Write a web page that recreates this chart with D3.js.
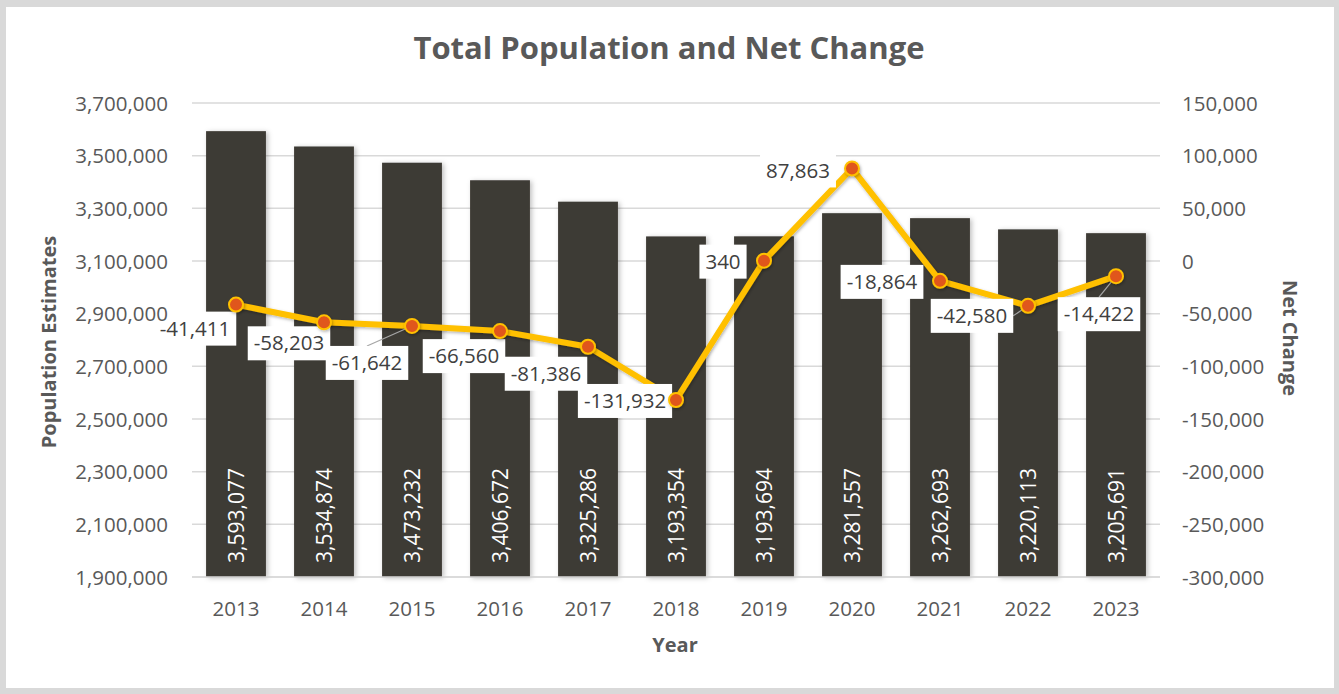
<!DOCTYPE html>
<html>
<head>
<meta charset="utf-8">
<script src="https://cdn.jsdelivr.net/npm/d3@7"></script>
<style>
  html, body { margin: 0; padding: 0; background: #d9d9d9; }
  svg { display: block; }
  text { font-family: "Open Sans", sans-serif; }
</style>
</head>
<body>
<svg id="chart" width="1339" height="694"></svg>
<script>
// Data
const years = ["2013", "2014", "2015", "2016", "2017", "2018", "2019", "2020", "2021", "2022", "2023"];
const population = [3593077, 3534874, 3473232, 3406672, 3325286, 3193354, 3193694, 3281557, 3262693, 3220113, 3205691];
const netChange = [-41411, -58203, -61642, -66560, -81386, -131932, 340, 87863, -18864, -42580, -14422];
const popTicks = [1900000, 2100000, 2300000, 2500000, 2700000, 2900000, 3100000, 3300000, 3500000, 3700000];
const changeTicks = [-300000, -250000, -200000, -150000, -100000, -50000, 0, 50000, 100000, 150000];

// Net-change label placement (text centre relative to its marker) and leader-line flags
const labelOffsets = [[-41, 24], [-35, 21], [-45, 37], [-36, 25], [-42, 27], [-51, 1], [-41, 1], [-54, 2], [-58, 1], [-56, 10], [-17, 38]];
const leaderLines = [false, false, true, false, false, false, false, false, false, true, true];

const W = 1339, H = 694;
const margin = { left: 192, right: 179, top: 103, bottom: 117 };
const svg = d3.select("#chart");

// frame
svg.append("rect").attr("x", 6).attr("y", 7).attr("width", 1328).attr("height", 681).attr("fill", "#ffffff");

const defs = svg.append("defs");
const shadow = defs.append("filter").attr("id", "barShadow").attr("x", "-20%").attr("y", "-5%").attr("width", "150%").attr("height", "115%");
shadow.append("feDropShadow").attr("dx", 2).attr("dy", 1).attr("stdDeviation", 2.5).attr("flood-color", "#000").attr("flood-opacity", 0.25);
const mshadow = defs.append("filter").attr("id", "markShadow").attr("x", "-50%").attr("y", "-50%").attr("width", "200%").attr("height", "200%");
mshadow.append("feDropShadow").attr("dx", 1).attr("dy", 1.5).attr("stdDeviation", 1.5).attr("flood-color", "#000").attr("flood-opacity", 0.3);

const x = d3.scaleBand().domain(years).range([margin.left, W - margin.right]).paddingInner(0.32).paddingOuter(0.16);
const yL = d3.scaleLinear().domain([1900000, 3700000]).range([H - margin.bottom, margin.top]);
const yR = d3.scaleLinear().domain([-300000, 150000]).range([H - margin.bottom, margin.top]);
// thousands separators with a plain hyphen for negatives
const fmt = v => d3.format(",")(Math.abs(v)).replace(/^/, v < 0 ? "-" : "");

const tickStyle = sel => sel.attr("fill", "#595959").style("font-size", "20.5px").style("font-family", "'Open Sans', sans-serif");

// gridlines
svg.append("g").selectAll("line").data(popTicks).join("line")
  .attr("x1", margin.left).attr("x2", W - margin.right)
  .attr("y1", d => yL(d)).attr("y2", d => yL(d))
  .attr("stroke", "#d9d9d9").attr("stroke-width", 1.5);

// left axis
const axL = svg.append("g").attr("transform", `translate(${margin.left - 24},0)`)
  .call(d3.axisLeft(yL).tickValues(popTicks).tickFormat(fmt).tickSize(0).tickPadding(0));
axL.select(".domain").remove();
axL.selectAll("text").call(tickStyle).attr("dy", "0.35em");

// right axis
const axR = svg.append("g").attr("transform", `translate(${W - margin.right + 22},0)`)
  .call(d3.axisRight(yR).tickValues(changeTicks).tickFormat(fmt).tickSize(0).tickPadding(0));
axR.select(".domain").remove();
axR.selectAll("text").call(tickStyle).attr("dy", "0.35em");

// x axis
const axX = svg.append("g").attr("transform", `translate(0,${H - margin.bottom})`)
  .call(d3.axisBottom(x).tickSize(0).tickPadding(24));
axX.select(".domain").remove();
axX.selectAll("text").call(tickStyle);

// bars
svg.append("g").selectAll("rect").data(years).join("rect")
  .attr("x", d => x(d)).attr("width", x.bandwidth())
  .attr("y", (d, i) => yL(population[i]))
  .attr("height", (d, i) => yL(1900000) - yL(population[i]))
  .attr("fill", "#3d3a35").attr("filter", "url(#barShadow)");

// bar value labels
svg.append("g").selectAll("text").data(years).join("text")
  .attr("transform", d => `translate(${x(d) + x.bandwidth() / 2 + 7.5},${yL(1900000) - 14}) rotate(-90)`)
  .attr("text-anchor", "start")
  .attr("fill", "#ffffff").style("font-size", "21px")
  .text((d, i) => fmt(population[i]));

// baseline
svg.append("line").attr("x1", margin.left).attr("x2", W - margin.right)
  .attr("y1", yL(1900000)).attr("y2", yL(1900000)).attr("stroke", "#d9d9d9").attr("stroke-width", 1.5);

// net change line
const cx = d => x(d) + x.bandwidth() / 2;
svg.append("path").datum(years)
  .attr("d", d3.line().x(d => cx(d)).y((d, i) => yR(netChange[i])))
  .attr("fill", "none").attr("stroke", "#ffc000").attr("stroke-width", 6).attr("stroke-linejoin", "round")
  .attr("filter", "url(#markShadow)");

// leader lines and labels
const lab = svg.append("g");
years.forEach((d, i) => {
  const px = cx(d), py = yR(netChange[i]);
  const tx = px + labelOffsets[i][0], ty = py + labelOffsets[i][1];
  const t = lab.append("text").attr("x", tx).attr("y", ty).attr("dy", "0.35em")
    .attr("text-anchor", "middle").attr("fill", "#404040").style("font-size", "20.5px")
    .text(fmt(netChange[i]));
  const bb = t.node().getBBox();
  const bw = bb.width + 12, bh = 34;
  if (leaderLines[i]) {
    // connect marker to nearest point of the box edge
    const bx0 = tx - bw / 2, bx1 = tx + bw / 2, by0 = ty - bh / 2;
    let ex, ey;
    if (py < by0) { ex = tx; ey = by0; }
    else if (px > bx1) { ex = bx1; ey = ty; }
    else { ex = bx0; ey = ty; }
    lab.insert("line", "text").attr("x1", px).attr("y1", py).attr("x2", ex).attr("y2", ey)
      .attr("stroke", "#a6a6a6").attr("stroke-width", 1.2);
  }
  lab.insert("rect", "text").attr("x", tx - bw / 2).attr("y", ty - bh / 2).attr("width", bw).attr("height", bh)
    .attr("fill", "#ffffff");
});

// markers
svg.append("g").selectAll("circle").data(years).join("circle")
  .attr("cx", d => cx(d)).attr("cy", (d, i) => yR(netChange[i]))
  .attr("r", 7).attr("fill", "#e0561a").attr("stroke", "#ffc000").attr("stroke-width", 2)
  .attr("filter", "url(#markShadow)");

// keep the value-axis labels above the label boxes
axL.raise();

// titles
svg.append("text").attr("x", 669).attr("y", 59).attr("text-anchor", "middle")
  .attr("fill", "#595959").style("font-size", "31px").style("font-weight", "bold")
  .text("Total Population and Net Change");
svg.append("text").attr("x", 675).attr("y", 652).attr("text-anchor", "middle")
  .attr("fill", "#595959").style("font-size", "20px").style("font-weight", "bold").text("Year");
svg.append("text").attr("transform", `translate(56,342) rotate(-90)`).attr("text-anchor", "middle")
  .attr("fill", "#595959").style("font-size", "20px").style("font-weight", "bold").text("Population Estimates");
svg.append("text").attr("transform", `translate(1283,338) rotate(90)`).attr("text-anchor", "middle")
  .attr("fill", "#595959").style("font-size", "20px").style("font-weight", "bold").text("Net Change");
</script>
</body>
</html>
